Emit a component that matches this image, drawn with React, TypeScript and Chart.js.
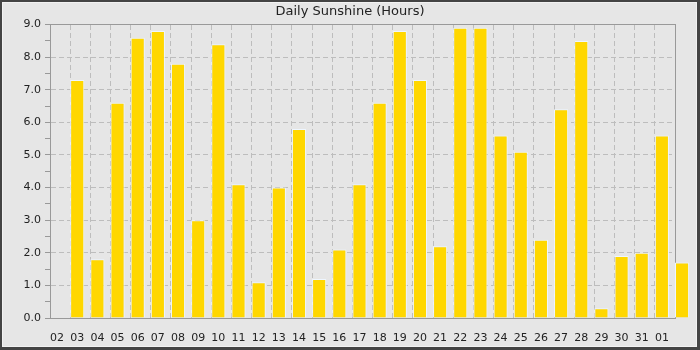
import React, { useEffect, useRef } from 'react';
import { Chart, registerables } from 'chart.js';

Chart.register(...registerables);

const chartTitle = 'Daily Sunshine (Hours)';
const dayLabels = ['02', '03', '04', '05', '06', '07', '08', '09', '10', '11', '12', '13', '14', '15', '16', '17', '18', '19', '20', '21', '22', '23', '24', '25', '26', '27', '28', '29', '30', '31', '01'];
// last value belongs to the day after the final label (drawn past the plot edge)
const sunshineHours = [0, 7.3, 1.8, 6.6, 8.6, 8.8, 7.8, 3.0, 8.4, 4.1, 1.1, 4.0, 5.8, 1.2, 2.1, 4.1, 6.6, 8.8, 7.3, 2.2, 8.9, 8.9, 5.6, 5.1, 2.4, 6.4, 8.5, 0.3, 1.9, 2.0, 5.6, 1.7];
const yMin = 0;
const yMax = 9;
const yStep = 0.5;

const BAR_FRACTION = 0.7;
const BAR_CENTER = BAR_FRACTION / 2;

export default function App() {
  const canvasRef = useRef<HTMLCanvasElement | null>(null);

  useEffect(() => {
    document.body.style.margin = '0';
    const canvas = canvasRef.current;
    if (!canvas) return;
    Chart.defaults.font.family = "'DejaVu Sans', sans-serif";
    Chart.defaults.font.size = 11;
    Chart.defaults.color = '#222';

    const chart = new Chart(canvas, {
      type: 'bar',
      data: {
        datasets: [
          {
            data: sunshineHours.map((v, i) => ({ x: i + BAR_CENTER, y: v })),
            backgroundColor: '#FFD700',
            borderColor: '#eef6ff',
            borderWidth: 1,
            barPercentage: 1,
            categoryPercentage: BAR_FRACTION,
            clip: false as any,
            xAxisID: 'x',
            yAxisID: 'y',
          },
        ],
      },
      options: {
        responsive: false,
        animation: false,
        events: [],
        layout: { padding: 0 },
        plugins: {
          legend: { display: false },
          tooltip: { enabled: false },
          title: {
            display: true,
            text: chartTitle,
            color: '#222',
            font: { size: 13, weight: 'normal' as any },
            padding: { top: 4, bottom: 5 },
          },
        },
        scales: {
          x: {
            type: 'linear',
            position: 'bottom',
            offset: false,
            min: 0,
            max: dayLabels.length,
            afterBuildTicks: (s: any) => {
              s.ticks = dayLabels.map((_, i) => ({ value: i + BAR_CENTER }));
            },
            afterFit: (s: any) => {
              s.height = 32;
            },
            grid: { display: false, offset: false },
            border: { display: true, color: '#999', width: 1 },
            ticks: {
              autoSkip: false,
              maxRotation: 0,
              minRotation: 0,
              padding: 6,
              color: '#222',
              font: { size: 11 },
              callback: (_v: any, i: number) => dayLabels[i] ?? '',
            },
          },
          xg: {
            type: 'linear',
            axis: 'x',
            position: 'top',
            offset: false,
            min: 0,
            max: dayLabels.length,
            afterBuildTicks: (s: any) => {
              s.ticks = dayLabels.slice(1).map((_, i) => ({ value: i + 1 }));
            },
            afterFit: (s: any) => {
              s.height = 0;
            },
            grid: { display: true, offset: false, drawTicks: false, color: '#bdbdbd', lineWidth: 1 },
            border: { display: true, color: '#999', width: 1, dash: [5, 3] },
            ticks: { display: false },
          },
          y: {
            type: 'linear',
            position: 'left',
            min: yMin,
            max: yMax,
            afterFit: (s: any) => {
              s.width = 50;
            },
            grid: {
              display: true,
              drawTicks: true,
              tickLength: 5,
              tickColor: '#999',
              lineWidth: 1,
              color: (ctx: any) => {
                const v = ctx.tick ? ctx.tick.value : 0;
                return Number.isInteger(v) && v > yMin && v < yMax ? '#bdbdbd' : 'rgba(0,0,0,0)';
              },
            },
            border: { display: true, color: '#999', width: 1, dash: [5, 3] },
            ticks: {
              stepSize: yStep,
              autoSkip: false,
              padding: 4,
              color: '#222',
              font: { size: 11 },
              callback: (v: any) => (Number.isInteger(Number(v)) ? Number(v).toFixed(1) : ''),
            },
          },
          yr: {
            type: 'linear',
            axis: 'y',
            position: 'right',
            min: yMin,
            max: yMax,
            afterFit: (s: any) => {
              s.width = 25;
            },
            grid: { display: false },
            border: { display: true, color: '#999', width: 1 },
            ticks: { display: false },
          },
        } as any,
      },
    });
    return () => chart.destroy();
  }, []);

  return (
    <div style={{ position: 'fixed', left: 0, top: 0, width: 700, height: 350 }}>
      <div
        style={{
          position: 'absolute',
          left: 0,
          top: 0,
          width: 700,
          height: 350,
          boxSizing: 'border-box',
          borderStyle: 'solid',
          borderColor: '#444',
          borderWidth: '2px 3px 3px 2px',
          background: '#e6e6e6',
          boxShadow: 'inset 0 0 0 1px #f2f2f2',
        }}
      />
      <canvas
        ref={canvasRef}
        width={700}
        height={350}
        style={{ position: 'absolute', left: 0, top: 0, width: 700, height: 350 }}
      />
    </div>
  );
}
